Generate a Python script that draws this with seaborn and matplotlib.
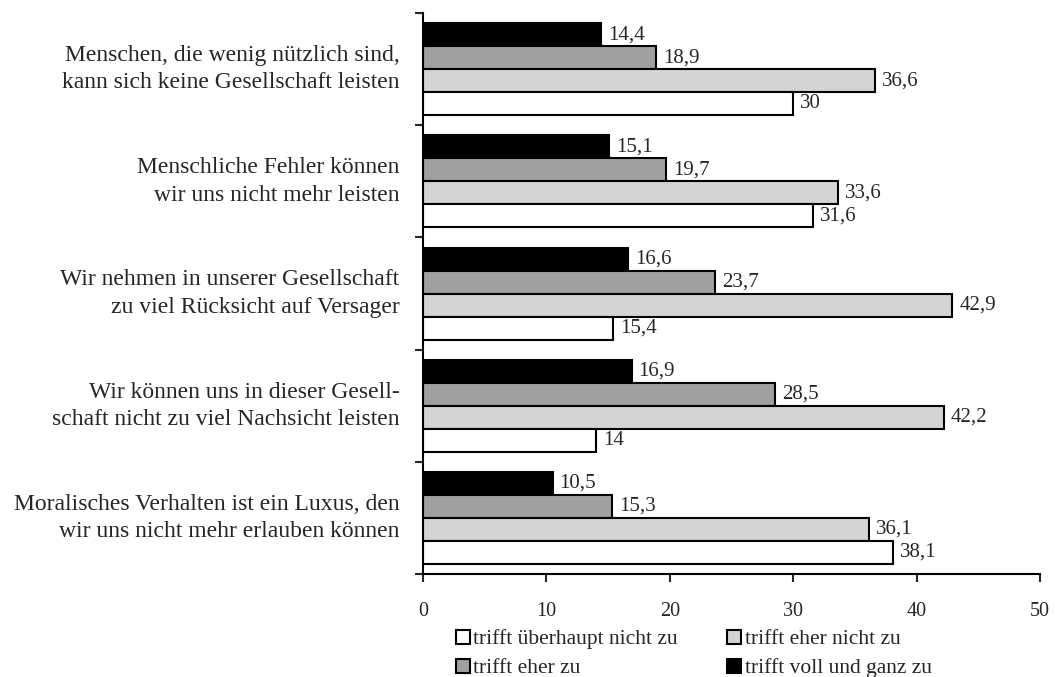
import pandas as pd
import matplotlib.pyplot as plt
import seaborn as sns
from matplotlib.ticker import FixedLocator
from matplotlib.transforms import ScaledTranslation

categories = [
    "Menschen, die wenig nützlich sind,\nkann sich keine Gesellschaft leisten",
    "Menschliche Fehler können\nwir uns nicht mehr leisten",
    "Wir nehmen in unserer Gesellschaft\nzu viel Rücksicht auf Versager",
    "Wir können uns in dieser Gesell-\nschaft nicht zu viel Nachsicht leisten",
    "Moralisches Verhalten ist ein Luxus, den\nwir uns nicht mehr erlauben können",
]
series = ["trifft voll und ganz zu", "trifft eher zu",
          "trifft eher nicht zu", "trifft überhaupt nicht zu"]
voll_und_ganz = [14.4, 15.1, 16.6, 16.9, 10.5]
eher_zu = [18.9, 19.7, 23.7, 28.5, 15.3]
eher_nicht = [36.6, 33.6, 42.9, 42.2, 36.1]
ueberhaupt_nicht = [30, 31.6, 15.4, 14, 38.1]
colors = ["#000000", "#a0a0a0", "#d4d4d4", "#ffffff"]

values = [voll_und_ganz, eher_zu, eher_nicht, ueberhaupt_nicht]
df = pd.DataFrame({
    "Aussage": categories * len(series),
    "Antwort": [s for s in series for _ in categories],
    "Prozent": [v for vals in values for v in vals],
})

sns.set_style("white")
plt.rcParams["font.family"] = ["Liberation Serif", "DejaVu Serif"]

fig = plt.figure(figsize=(10.55, 6.77), dpi=100)
ax = fig.add_axes([0.401, 0.1521, 0.5848, 0.8287])

sns.barplot(data=df, x="Prozent", y="Aussage", hue="Antwort", orient="h",
            hue_order=series, order=categories, palette=colors,
            width=0.82, edgecolor="black", linewidth=1.5, ax=ax,
            legend=True, errorbar=None)

for cont in ax.containers:
    labels = [f"{r.get_width():g}".replace(".", ",") for r in cont]
    ax.bar_label(cont, labels=labels, padding=5, fontsize=15)

ax.set_xlim(0, 50)
ax.set_xticks(range(0, 51, 10))
ax.set_ylim(len(categories) - 0.5, -0.5)
ax.yaxis.set_minor_locator(FixedLocator([i - 0.5 for i in range(len(categories) + 1)]))
ax.tick_params(axis="y", which="major", length=0, pad=17, labelsize=17)
ax.tick_params(axis="y", which="minor", left=True, length=6, width=1.5, direction="out")
ax.tick_params(axis="x", which="major", bottom=True, length=6, width=1.5,
               direction="out", pad=14, labelsize=14.5)
# labels sit a little above the group centre in the original
shift = ScaledTranslation(0, 4 / 72, fig.dpi_scale_trans)
for lbl in ax.get_yticklabels():
    lbl.set_linespacing(1.4)
    lbl.set_transform(lbl.get_transform() + shift)
ax.set_xlabel("")
ax.set_ylabel("")
sns.despine(ax=ax, top=True, right=True)
for side in ["left", "bottom"]:
    ax.spines[side].set_linewidth(1.5)
    ax.spines[side].set_color("black")

handles, labs = ax.get_legend_handles_labels()
lookup = dict(zip(labs, handles))
leg_order = ["trifft überhaupt nicht zu", "trifft eher zu",
             "trifft eher nicht zu", "trifft voll und ganz zu"]
ax.legend([lookup[l] for l in leg_order], leg_order, ncol=2, frameon=False,
          fontsize=15.5, loc="center left", bbox_to_anchor=(0.4322, 0.034),
          bbox_transform=fig.transFigure, borderpad=0, borderaxespad=0,
          handlelength=0.65, handleheight=0.65, handletextpad=0.15,
          columnspacing=2.3, labelspacing=0.42)

fig.savefig("out.png", dpi=100)
